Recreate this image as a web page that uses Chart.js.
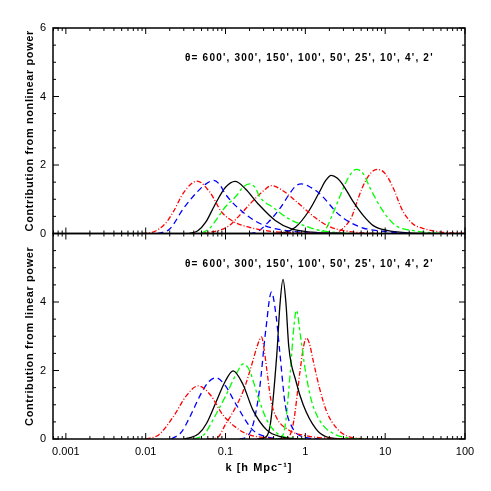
<!DOCTYPE html>
<html>
<head>
<meta charset="utf-8">
<script src="https://cdn.jsdelivr.net/npm/chart.js@4.4.1/dist/chart.umd.min.js"></script>
<style>
  html, body { margin: 0; padding: 0; background: #fff; }
  #wrap { width: 491px; height: 491px; }
</style>
</head>
<body>
<div id="wrap"><canvas id="kChart" width="491" height="491"></canvas></div>
<script>
/* contribution curves vs k, two stacked panels sharing a log k axis */

// angles (arcmin) shown in the panel label, left-most curve first
const thetaLabels = ["600'", "300'", "150'", "100'", "50'", "25'", "10'", "4'", "2'"];
const kTicks = [0.001, 0.01, 0.1, 1, 10, 100];
const kTickLabels = ['0.001', '0.01', '0.1', '1', '10', '100'];
const yTopTicks = [0, 2, 4, 6];
const yBotTicks = [0, 2, 4];

// top panel: contribution from nonlinear power, [k, value]
const nl600 = [[0.009,0],[0.0126,0.05],[0.0178,0.3],[0.022,0.62],[0.03,1.2],[0.044,1.53],[0.063,1.22],[0.09,0.62],[0.13,0.33],[0.2,0.18],[0.35,0.07],[0.7,0.02],[2,0]];
const nl300 = [[0.014,0],[0.02,0.13],[0.0295,0.72],[0.044,1.21],[0.057,1.45],[0.0714,1.55],[0.085,1.42],[0.099,1.16],[0.176,0.57],[0.31,0.23],[0.56,0.09],[1.2,0.02],[3,0]];
const nl150 = [[0.035,0],[0.045,0.08],[0.0565,0.33],[0.0748,0.87],[0.1,1.35],[0.132,1.52],[0.178,1.3],[0.255,0.87],[0.42,0.38],[0.66,0.14],[1.2,0.04],[3,0]];
const nl100 = [[0.05,0],[0.065,0.18],[0.078,0.43],[0.1,0.78],[0.138,1.11],[0.165,1.35],[0.2,1.45],[0.235,1.34],[0.27,1.06],[0.4,0.75],[0.6,0.45],[1.0,0.22],[1.6,0.08],[4,0]];
const nl50  = [[0.05,0],[0.085,0.1],[0.11,0.22],[0.15,0.53],[0.2,0.85],[0.3,1.25],[0.376,1.4],[0.5,1.28],[0.8,0.9],[1.3,0.48],[2.0,0.2],[3.5,0.06],[8,0]];
const nl25  = [[0.2,0],[0.25,0.05],[0.35,0.35],[0.47,0.7],[0.63,1.15],[0.75,1.38],[0.89,1.45],[1.1,1.38],[1.5,1.17],[2.7,0.53],[5,0.18],[9,0.07],[20,0]];
const nl10  = [[0.4,0],[0.55,0.03],[0.75,0.18],[1.1,0.65],[1.5,1.21],[1.8,1.55],[2.11,1.7],[2.5,1.62],[3,1.4],[3.9,0.96],[5.3,0.53],[7.1,0.23],[10.5,0.09],[20,0.02],[40,0]];
const nl4   = [[1.2,0],[1.5,0.03],[1.85,0.18],[2.2,0.57],[2.8,1.16],[3.5,1.65],[4.34,1.87],[5.3,1.75],[6.4,1.35],[9.3,0.67],[13.6,0.23],[21.7,0.09],[50,0]];
const nl2   = [[2,0],[2.5,0.03],[3.05,0.18],[3.8,0.48],[4.35,0.87],[5.2,1.35],[6.5,1.75],[8.08,1.87],[10,1.75],[12.5,1.35],[16.5,0.67],[22.3,0.28],[32,0.13],[50,0.04],[80,0.01],[100,0]];

// bottom panel: contribution from linear power, [k, value]
const lin600 = [[0.01,0],[0.0145,0.12],[0.0222,0.65],[0.032,1.25],[0.0454,1.55],[0.064,1.3],[0.093,0.7],[0.15,0.26],[0.2,0.12],[0.3,0.04],[0.5,0]];
const lin300 = [[0.021,0],[0.028,0.2],[0.035,0.6],[0.05,1.35],[0.062,1.68],[0.0757,1.79],[0.1,1.55],[0.137,0.99],[0.22,0.26],[0.35,0.05],[0.5,0]];
const lin150 = [[0.03,0],[0.035,0.03],[0.046,0.15],[0.058,0.46],[0.08,1.2],[0.1,1.7],[0.1245,1.99],[0.165,1.6],[0.22,0.85],[0.33,0.26],[0.5,0.06],[0.8,0]];
const lin100 = [[0.04,0],[0.055,0.15],[0.066,0.46],[0.1,1.25],[0.14,1.95],[0.166,2.19],[0.2,2.0],[0.258,1.2],[0.33,0.55],[0.44,0.17],[0.7,0.02],[1,0]];
const lin50  = [[0.06,0],[0.08,0.05],[0.1,0.43],[0.125,0.8],[0.17,1.45],[0.215,2.2],[0.25,2.72],[0.282,2.98],[0.305,2.6],[0.33,2.0],[0.37,1.14],[0.43,0.65],[0.6,0.28],[1.0,0.1],[2,0.02],[4,0]];
const lin25  = [[0.15,0],[0.18,0.05],[0.22,0.4],[0.265,1.4],[0.32,3.2],[0.376,4.29],[0.43,3.6],[0.48,2.5],[0.56,1.0],[0.7,0.3],[0.95,0.06],[1.5,0]];
const lin10  = [[0.25,0],[0.3,0.03],[0.36,0.36],[0.44,2.5],[0.48,3.9],[0.525,4.66],[0.57,4.0],[0.62,2.7],[0.76,1.7],[0.94,1.0],[1.35,0.3],[1.8,0.07],[3,0]];
const lin4   = [[0.4,0],[0.48,0.02],[0.56,0.4],[0.65,2.0],[0.72,3.3],[0.772,3.76],[0.87,3.0],[1.0,2.0],[1.2,1.1],[1.55,0.5],[2.2,0.17],[3.5,0.03],[6,0]];
const lin2   = [[0.5,0],[0.58,0.02],[0.7,0.4],[0.86,2.0],[0.95,2.7],[1.03,2.95],[1.12,2.8],[1.25,2.3],[1.5,1.5],[1.85,0.8],[2.5,0.3],[3.5,0.07],[6,0]];

const topCurves = [nl600, nl300, nl150, nl100, nl50, nl25, nl10, nl4, nl2];
const botCurves = [lin600, lin300, lin150, lin100, lin50, lin25, lin10, lin4, lin2];

// line styles cycle red dash-dot, blue dash, black solid, green dash-dot
const styles = {
  red:   { color: '#ff0000', dash: [5, 2, 1, 2] },
  blue:  { color: '#0000ff', dash: [6, 4] },
  black: { color: '#000000', dash: [] },
  green: { color: '#00ff00', dash: [7, 3, 3, 3] }
};
const curveStyle = ['red', 'blue', 'black', 'green', 'red', 'blue', 'black', 'green', 'red'];

function makeSet(points, i, axis) {
  const s = styles[curveStyle[i]];
  return {
    label: thetaLabels[i],
    data: points.map(p => ({ x: p[0], y: p[1] })),
    yAxisID: axis,
    borderColor: s.color,
    borderDash: s.dash,
    borderWidth: 1.3,
    pointRadius: 0,
    cubicInterpolationMode: 'monotone',
    fill: false
  };
}

const datasets = [
  ...topCurves.map((c, i) => makeSet(c, i, 'yTop')),
  ...botCurves.map((c, i) => makeSet(c, i, 'yBot'))
];

const tickFont = { family: "'Liberation Sans', Arial, sans-serif", size: 11 };

function yAxis(ticksList, weight) {
  return {
    type: 'linear',
    min: 0, max: 6,
    position: 'left',
    stack: 'panels',
    stackWeight: 1,
    weight: weight,
    grid: { display: false, drawTicks: false },
    border: { display: false },
    afterBuildTicks: s => { s.ticks = ticksList.map(v => ({ value: v })); },
    afterFit: s => { s.width = 53; },
    ticks: { color: '#000', font: tickFont, padding: 7, callback: v => String(v) }
  };
}

/* frame, inward ticks, panel labels and axis titles */
const framePlugin = {
  id: 'frame',
  afterDatasetsDraw(chart) {
    const { ctx, scales } = chart;
    const xs = scales.x;
    const left = xs.left, right = xs.right;
    const line = (x1, y1, x2, y2) => { ctx.beginPath(); ctx.moveTo(x1, y1); ctx.lineTo(x2, y2); ctx.stroke(); };
    ctx.save();
    ctx.strokeStyle = '#000';
    [scales.yTop, scales.yBot].forEach(ys => {
      const top = ys.top, bottom = ys.bottom;
      ctx.lineWidth = 1;
      for (let n = -4; n <= 2; n++) {
        for (let m = 1; m < 10; m++) {
          const v = m * Math.pow(10, n);
          if (v < xs.min || v > xs.max) continue;
          const px = xs.getPixelForValue(v);
          const len = m === 1 ? 6 : 3;
          line(px, bottom, px, bottom - len);
          line(px, top, px, top + len);
        }
      }
      for (let v = 0; v <= 6; v += 0.5) {
        const py = ys.getPixelForValue(v);
        const len = v % 2 === 0 ? 6 : 3;
        line(left, py, left + len, py);
        line(right, py, right - len, py);
      }
      ctx.lineWidth = 1.5;
      ctx.strokeRect(left, top, right - left, bottom - top);
    });

    ctx.fillStyle = '#000';
    ctx.textBaseline = 'middle';
    ctx.textAlign = 'left';
    ctx.font = "bold 10px 'Liberation Sans', Arial, sans-serif";
    ctx.letterSpacing = '1.2px';
    const label = '\u03b8= ' + thetaLabels.join(', ');
    ctx.fillText(label, 185, scales.yTop.top + 30);
    ctx.fillText(label, 185, scales.yBot.top + 31);

    ctx.textAlign = 'center';
    ctx.font = "bold 11px 'Liberation Sans', Arial, sans-serif";
    ctx.letterSpacing = '1px';
    ctx.fillText('k [h Mpc\u207b\u00b9]', (left + right) / 2, 468);

    ctx.letterSpacing = '0.6px';
    [['Contribution from nonlinear power', scales.yTop], ['Contribution from linear power', scales.yBot]].forEach(([t, ys]) => {
      ctx.save();
      ctx.translate(30, (ys.top + ys.bottom) / 2);
      ctx.rotate(-Math.PI / 2);
      ctx.fillText(t, 0, 0);
      ctx.restore();
    });
    ctx.restore();
  }
};

new Chart(document.getElementById('kChart'), {
  type: 'line',
  data: { datasets },
  options: {
    responsive: false,
    animation: false,
    devicePixelRatio: 1,
    layout: { padding: { left: 0, right: 26, top: 28, bottom: 0 } },
    plugins: { legend: { display: false }, tooltip: { enabled: false } },
    scales: {
      x: {
        type: 'logarithmic',
        min: 0.00069, max: 100,
        position: 'bottom',
        grid: { display: false, drawTicks: false },
        border: { display: false },
        afterBuildTicks: s => { s.ticks = kTicks.map(v => ({ value: v })); },
        afterFit: s => { s.height = 52; },
        ticks: {
          color: '#000', font: tickFont, padding: 6, maxRotation: 0, autoSkip: false,
          callback: (v, i) => kTickLabels[i]
        }
      },
      yBot: yAxis(yBotTicks, 1),
      yTop: yAxis(yTopTicks, 2)
    }
  },
  plugins: [framePlugin]
});
</script>
</body>
</html>
